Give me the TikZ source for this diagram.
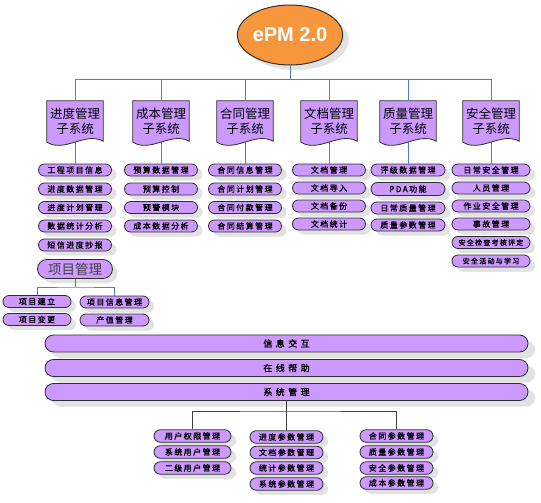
\documentclass[tikz,border=0pt]{standalone}
\usepackage{fontspec}
\setmainfont{Liberation Sans}
\newfontfamily\cjk{Noto Sans CJK SC}
\newfontfamily\cjkls[LetterSpace=18,FakeBold=1.3]{Noto Sans CJK SC}
\newfontfamily\cjkbar[LetterSpace=38,FakeBold=1.3]{Noto Sans CJK SC}
\usetikzlibrary{shapes.geometric,shapes.misc,shadows,calc,backgrounds}
\definecolor{pur}{HTML}{CC99FF}
\definecolor{org}{HTML}{F7963C}
\definecolor{lnblue}{HTML}{4F7FCC}
\definecolor{shd}{HTML}{E2E2E2}
\definecolor{edge}{HTML}{2E2E2E}
\tikzset{
  pill/.style={rounded rectangle, draw=edge, line width=0.8pt, fill=pur,
    minimum height=12pt, inner sep=0pt, text=black,
    font=\cjkls\fontsize{8}{8}\selectfont,
    drop shadow={shadow xshift=5pt, shadow yshift=-4.5pt, fill=shd, opacity=1}},
  pillsmall/.style={pill, font=\cjkls\fontsize{7}{7}\selectfont},
  bigpill/.style={pill, minimum height=19pt, font=\cjk\fontsize{13.5}{14}\selectfont, text=black!75},
  barbox/.style={pill, minimum width=483pt, minimum height=17pt,
    font=\cjkbar\fontsize{9}{9}\selectfont,
    drop shadow={shadow xshift=7pt, shadow yshift=-6pt, fill=shd, opacity=1}},
  docbox/.style={rectangle, minimum width=56pt, minimum height=41pt, inner sep=0pt,
    align=center, font=\cjk\fontsize{12.5}{15}\selectfont},
  topline/.style={draw=lnblue, line width=1pt},
  botline/.style={draw=black!75, line width=1pt},
}
\begin{document}
\begin{tikzpicture}[x=1pt,y=-1pt]
\useasboundingbox (0,0) rectangle (541,503);
% root
\node[ellipse, draw=black!80, line width=1pt, fill=org, minimum width=94pt, minimum height=60pt,
  inner sep=0pt, text=white, font=\bfseries\fontsize{20}{24}\selectfont,
  drop shadow={shadow xshift=6pt, shadow yshift=-5pt, fill=shd, opacity=1}] (e) at (290,35) {ePM 2.0};
\coordinate (hub) at (290,80);
% subsystems
\node[docbox] (s1) at (75,121.5) {进度管理\\子系统};
\node[docbox] (s2) at (161,121.5) {成本管理\\子系统};
\node[docbox] (s3) at (245,121.5) {合同管理\\子系统};
\node[docbox] (s4) at (329,121.5) {文档管理\\子系统};
\node[docbox] (s5) at (408,121.5) {质量管理\\子系统};
\node[docbox] (s6) at (491,121.5) {安全管理\\子系统};
% column 1
\begin{scope}[every node/.append style={pill, minimum width=73pt}]
\node (a1) at (75,170) {工程项目信息};
\node (a2) at (75,189) {进度数据管理};
\node (a3) at (75,207.5) {进度计划管理};
\node (a4) at (75,226) {数据统计分析};
\node (a5) at (75,245) {短信进度抄报};
\end{scope}
\node[bigpill, minimum width=75pt] (pm) at (75,269) {项目管理};
\coordinate (pmhub) at (75,287);
\node[pill, minimum width=68pt] (b1) at (37,301.5) {项目建立};
\node[pill, minimum width=68pt] (b2) at (37,319.5) {项目变更};
\node[pill, minimum width=69pt] (b3) at (114.5,302) {项目信息管理};
\node[pill, minimum width=69pt] (b4) at (114.5,320) {产值管理};
% column 2
\begin{scope}[every node/.append style={pill, minimum width=73pt}]
\node (c21) at (161,170) {预算数据管理};
\node (c22) at (161,189) {预算控制};
\node (c23) at (161,207.5) {预警模块};
\node (c24) at (161,226) {成本数据分析};
% column 3
\node (c31) at (245,170) {合同信息管理};
\node (c32) at (245,189) {合同计划管理};
\node (c33) at (245,207.5) {合同付款管理};
\node (c34) at (245,226) {合同结算管理};
% column 4
\node (c41) at (329,170) {文档管理};
\node (c42) at (329,188) {文档导入};
\node (c43) at (329,206) {文档备份};
\node (c44) at (329,224) {文档统计};
\end{scope}
% column 5
\begin{scope}[every node/.append style={pill, minimum width=74pt}]
\node (c51) at (408,170) {评级数据管理};
\node[minimum height=13pt] (c52) at (408,189) {PDA功能};
\node (c53) at (408,208) {日常质量管理};
\node (c54) at (408,225) {质量参数管理};
\end{scope}
% column 6
\begin{scope}[every node/.append style={pill, minimum width=78pt}]
\node (c61) at (491,170) {日常安全管理};
\node (c62) at (491,188) {人员管理};
\node (c63) at (491,206) {作业安全管理};
\node (c64) at (491,224) {事故管理};
\node[pillsmall] (c65) at (491,242.5) {安全检查考核评定};
\node[pillsmall] (c66) at (491,261) {安全活动与学习};
\end{scope}
% bars
\node[barbox] (bar1) at (286.5,343.5) {信息交互};
\node[barbox] (bar2) at (286.5,368) {在线帮助};
\node[barbox] (bar3) at (286.5,392) {系统管理};
\coordinate (sh) at (286.5,411);
% bottom columns
\begin{scope}[every node/.append style={pill, minimum width=77pt, minimum height=12.5pt}]
\node (u1) at (192.5,436) {用户权限管理};
\node (u2) at (192.5,452) {系统用户管理};
\node (u3) at (192.5,468) {二级用户管理};
\end{scope}
\begin{scope}[every node/.append style={pill, minimum width=73pt, minimum height=12.5pt}]
\node (p1) at (286.5,437) {进度参数管理};
\node (p2) at (286.5,452.5) {文档参数管理};
\node (p3) at (286.5,468) {统计参数管理};
\node (p4) at (286.5,484) {系统参数管理};
\node (q1) at (396.5,436) {合同参数管理};
\node (q2) at (396.5,452) {质量参数管理};
\node (q3) at (396.5,468) {安全参数管理};
\node (q4) at (396.5,483) {成本参数管理};
\end{scope}
% connectors
\draw[topline] (e.south) -- (hub);
\foreach \s in {s1,s2,s3,s4,s5,s6} { \draw[topline] (hub) -| (\s.north); }
\draw[topline] (s1.south) -- (s1.south |- a1.north);
\draw[topline] (s2.south) -- (s2.south |- c21.north);
\draw[topline] (s3.south) -- (s3.south |- c31.north);
\draw[topline] (s4.south) -- (s4.south |- c41.north);
\draw[topline] (s5.south) -- (s5.south |- c51.north);
\draw[topline] (s6.south) -- (s6.south |- c61.north);
\draw[topline] (pm.south) -- (pmhub);
\draw[topline] (b1.north) |- (pmhub) -| (b3.north);
\draw[botline] (bar3.south) -- (p1.north);
\draw[botline] (u1.north) |- (sh) -| (q1.north);
% background: white page and document shapes
\begin{scope}[on background layer]
\fill[white] (0,0) rectangle (541,503);
\foreach \s in {s1,s2,s3,s4,s5,s6} {
  \fill[shd, shift={(7,6)}] (\s.north west) -- (\s.north east) -- ($(\s.south east)+(0,-1)$)
    .. controls ($(\s.south east)+(-18,-11)$) and ($(\s.south west)+(18,11)$) .. (\s.south west) -- cycle;
  \filldraw[fill=pur, draw=edge, line width=0.8pt] (\s.north west) -- (\s.north east) -- ($(\s.south east)+(0,-1)$)
    .. controls ($(\s.south east)+(-18,-11)$) and ($(\s.south west)+(18,11)$) .. (\s.south west) -- cycle;
}
\end{scope}
\end{tikzpicture}
\end{document}
